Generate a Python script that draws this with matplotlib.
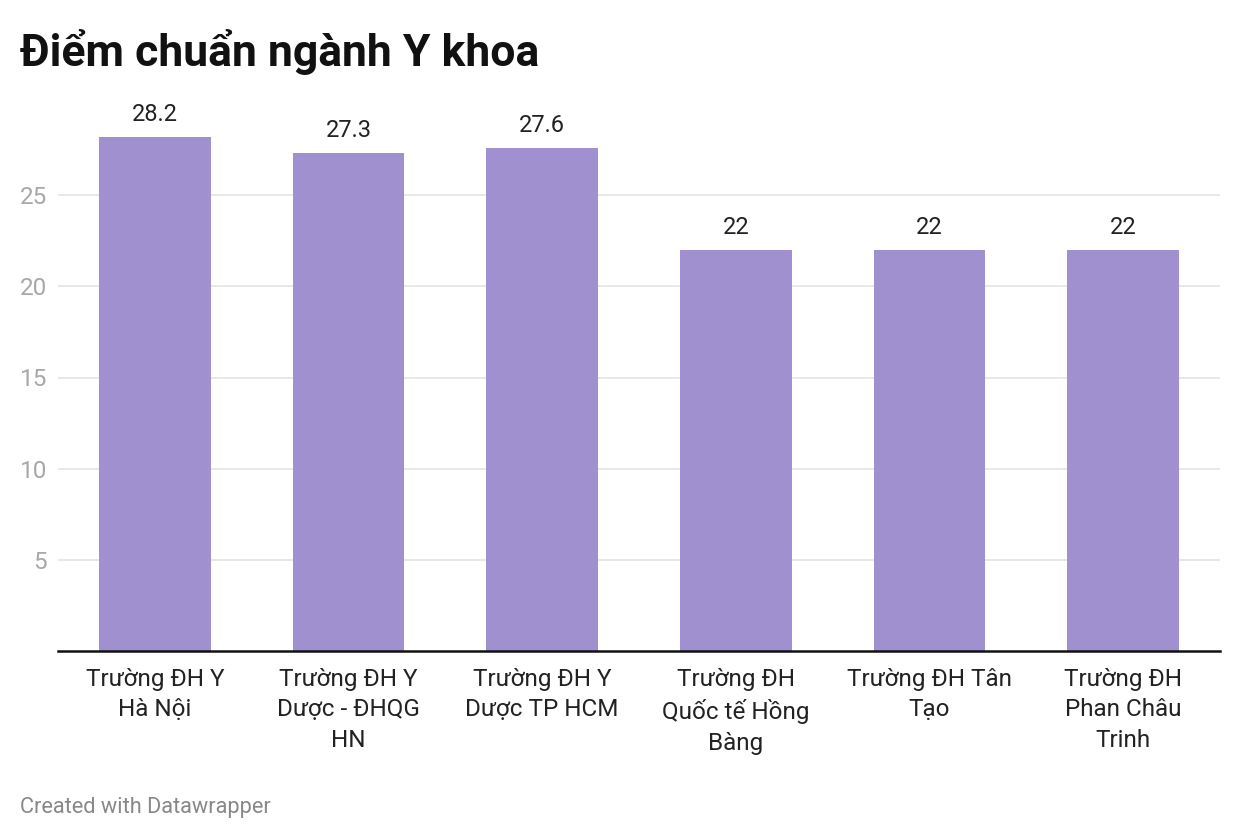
import matplotlib.pyplot as plt

plt.rcParams['font.family'] = ['Roboto', 'DejaVu Sans']

# data
truong = ["Trường ĐH Y\nHà Nội", "Trường ĐH Y\nDược - ĐHQG\nHN", "Trường ĐH Y\nDược TP HCM",
          "Trường ĐH\nQuốc tế Hồng\nBàng", "Trường ĐH Tân\nTạo", "Trường ĐH\nPhan Châu\nTrinh"]
diem = [28.2, 27.3, 27.6, 22, 22, 22]
yticks = [5, 10, 15, 20, 25]

fig = plt.figure(figsize=(12.4, 8.4), dpi=100)
ax = fig.add_axes([58/1240, 1 - 651/840, (1220-58)/1240, (651-104)/840])

x = range(len(diem))
bars = ax.bar(x, diem, width=0.577, color='#a090cf', zorder=2)
for xi, v in zip(x, diem):
    ax.annotate(f"{v:g}", (xi, v), xytext=(0, 8), textcoords='offset points',
                ha='center', va='bottom', fontsize=17, color='#222222')

ax.set_xlim(-0.5, 5.5)
ax.set_ylim(0, 30)
ax.set_yticks(yticks)
ax.set_yticklabels([str(t) for t in yticks], fontsize=17.5, color='#a8a8a8')
ax.grid(axis='y', color='#e4e4e4', linewidth=1.2, zorder=0)
ax.tick_params(axis='y', length=0, pad=8)
ax.set_xticks(list(x))
ax.set_xticklabels(truong, fontsize=17.5, color='#222222', linespacing=1.42, va='top')
ax.tick_params(axis='x', length=0, pad=12)

for s in ['top', 'right', 'left']:
    ax.spines[s].set_visible(False)
ax.spines['bottom'].set_color('#111111')
ax.spines['bottom'].set_linewidth(1.8)
ax.spines['bottom'].set_zorder(3)

fig.text(20/1240, 1 - 52/840, "Điểm chuẩn ngành Y khoa", fontsize=32, fontweight='bold',
         color='#111111', va='center', ha='left')
fig.text(20/1240, 1 - 807/840, "Created with Datawrapper", fontsize=15.7,
         color='#888888', va='center', ha='left')

fig.savefig('out.png', dpi=100, facecolor='white')
